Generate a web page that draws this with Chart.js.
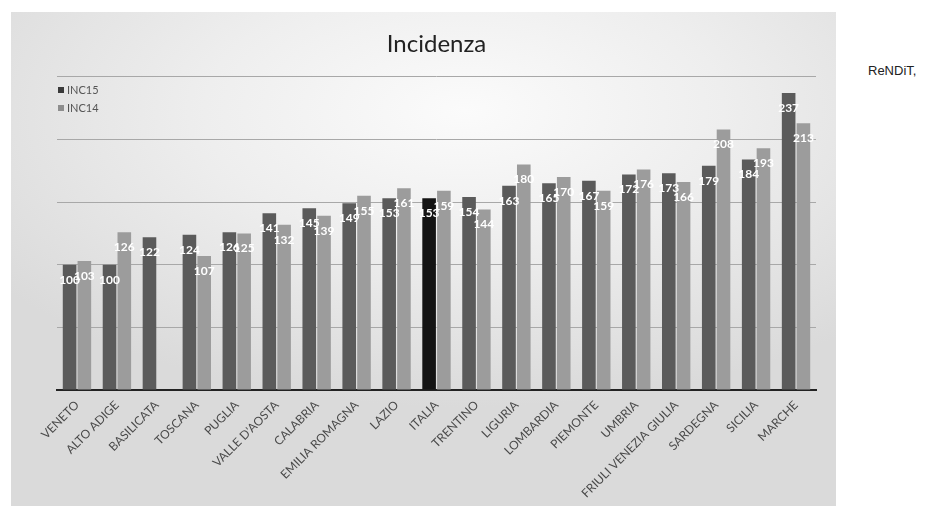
<!DOCTYPE html>
<html>
<head>
<meta charset="utf-8">
<script src="https://cdn.jsdelivr.net/npm/chart.js@4"></script>
<style>
  html, body { margin: 0; padding: 0; background: #fff; }
  body { width: 935px; height: 507px; position: relative; overflow: hidden; }
  .panel {
    position: absolute; left: 11px; top: 12px; width: 825px; height: 494px;
    background: radial-gradient(ellipse 70% 60% at 55% 20%, #fbfbfb 0%, #eeeeee 45%, #dadada 100%);
  }
  .side {
    position: absolute; left: 868px; top: 63px;
    font-family: "Liberation Sans", Arial, sans-serif; font-size: 13px; color: #222;
  }
</style>
</head>
<body>
<div class="panel"><canvas id="myChart" width="825" height="494"></canvas></div>
<div class="side">ReNDiT,</div>
<script>
const regions = ['VENETO', 'ALTO ADIGE', 'BASILICATA', 'TOSCANA', 'PUGLIA', "VALLE D'AOSTA",
    'CALABRIA', 'EMILIA ROMAGNA', 'LAZIO', 'ITALIA', 'TRENTINO', 'LIGURIA', 'LOMBARDIA',
    'PIEMONTE', 'UMBRIA', 'FRIULI VENEZIA GIULIA', 'SARDEGNA', 'SICILIA', 'MARCHE'];
const inc15 = [100, 100, 122, 124, 126, 141, 145, 149, 153, 153, 154, 163, 165, 167, 172, 173, 179, 184, 237];
const inc14 = [103, 126, null, 107, 125, 132, 139, 155, 161, 159, 144, 180, 170, 159, 176, 166, 208, 193, 213];
const yTicks = [0, 50, 100, 150, 200, 250];

const dark = '#5b5b5b';
const light = '#9c9c9c';
const font = 'Lato, "Open Sans", sans-serif';

// white value labels just under the top of each bar
const valueLabels = {
    id: 'valueLabels',
    afterDatasetsDraw(chart) {
        const ctx = chart.ctx;
        ctx.save();
        ctx.fillStyle = '#ffffff';
        ctx.font = 'bold 12px ' + font;
        ctx.textAlign = 'center';
        ctx.textBaseline = 'middle';
        chart.data.datasets.forEach((ds, di) => {
            chart.getDatasetMeta(di).data.forEach((bar, i) => {
                if (ds.data[i] == null) return;
                ctx.fillText(ds.data[i], bar.x, bar.y + 15);
            });
        });
        ctx.restore();
    }
};

// small legend in the top-left corner
const cornerLegend = {
    id: 'cornerLegend',
    afterDraw(chart) {
        const ctx = chart.ctx;
        ctx.save();
        ctx.font = '11px ' + font;
        ctx.textBaseline = 'middle';
        chart.data.datasets.forEach((ds, di) => {
            const y = 78 + di * 18;
            ctx.fillStyle = di === 0 ? '#3a3a3a' : '#8e8e8e';
            ctx.fillRect(47, y - 3, 6, 6);
            ctx.fillStyle = '#555';
            ctx.fillText(ds.label, 56, y);
        });
        ctx.restore();
    }
};

new Chart(document.getElementById('myChart'), {
    type: 'bar',
    data: {
        labels: regions,
        datasets: [
            {
                label: 'INC15',
                data: inc15,
                backgroundColor: regions.map(r => r === 'ITALIA' ? '#141414' : dark)
            },
            {
                label: 'INC14',
                data: inc14,
                backgroundColor: light
            }
        ]
    },
    options: {
        responsive: false,
        animation: false,
        layout: { padding: { left: 46, right: 20, top: 16, bottom: 0 } },
        datasets: { bar: { categoryPercentage: 0.74, barPercentage: 0.92 } },
        scales: {
            x: {
                grid: { display: false },
                border: { color: '#222', width: 2 },
                ticks: {
                    color: '#4a4a4a',
                    font: { family: font, size: 12 },
                    maxRotation: 45,
                    minRotation: 45,
                    autoSkip: false,
                    padding: 0
                },
                afterFit(scale) { scale.height = 116; }
            },
            y: {
                min: 0,
                max: 250,
                afterBuildTicks(scale) { scale.ticks = yTicks.map(v => ({ value: v })); },
                ticks: { display: false },
                border: { display: false },
                grid: { color: '#a8a8a8', lineWidth: 1, drawTicks: false }
            }
        },
        plugins: {
            legend: { display: false },
            tooltip: { enabled: false },
            title: {
                display: true,
                text: 'Incidenza',
                color: '#222',
                font: { family: font, size: 24, weight: 'normal' },
                padding: { top: 2, bottom: 18 }
            }
        }
    },
    plugins: [valueLabels, cornerLegend]
});
</script>
</body>
</html>
